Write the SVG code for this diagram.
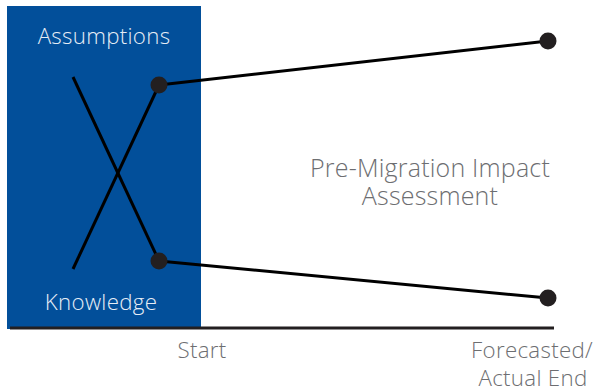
<svg xmlns="http://www.w3.org/2000/svg" width="596" height="391" viewBox="0 0 596 391">
<style>
.lbl{font-family:"Open Sans","Liberation Sans",sans-serif;font-weight:300;font-size:22.3px;text-anchor:middle;letter-spacing:0.3px}
.big{font-size:25px;letter-spacing:0.2px}
.in{fill:#e6edf6}
.out{fill:#6d6e71}
.ln{stroke:#000;stroke-width:3;fill:none}
.dot{fill:#231f20}
</style>
<rect x="7" y="6" width="194" height="323" fill="#024f9a"/>
<g id="axis"><line x1="10" y1="328" x2="554" y2="328" stroke="#231f20" stroke-width="3"/></g>
<g id="connectors">
<line class="ln" x1="73" y1="77" x2="159" y2="261"/>
<line class="ln" x1="73" y1="269" x2="159" y2="85"/>
<line class="ln" x1="159" y1="85" x2="548" y2="41"/>
<line class="ln" x1="159" y1="261" x2="548" y2="298"/>
</g>
<g id="assumptions"><text class="lbl in" x="104" y="44">Assumptions</text><circle class="dot" cx="159" cy="85" r="8.5"/></g>
<g id="knowledge"><text class="lbl in" x="101" y="310">Knowledge</text><circle class="dot" cx="159" cy="261" r="8.5"/></g>
<g id="end-top"><circle class="dot" cx="548" cy="41" r="8.5"/></g>
<g id="end-bottom"><circle class="dot" cx="548" cy="298" r="8.5"/></g>
<g id="start"><text class="lbl out" x="202" y="358">Start</text></g>
<g id="end"><text class="lbl out" x="532" y="358">Forecasted/</text><text class="lbl out" x="533" y="386">Actual End</text></g>
<g id="assessment"><text class="lbl out big" x="430" y="177">Pre-Migration Impact</text><text class="lbl out big" x="430" y="205">Assessment</text></g>
</svg>
